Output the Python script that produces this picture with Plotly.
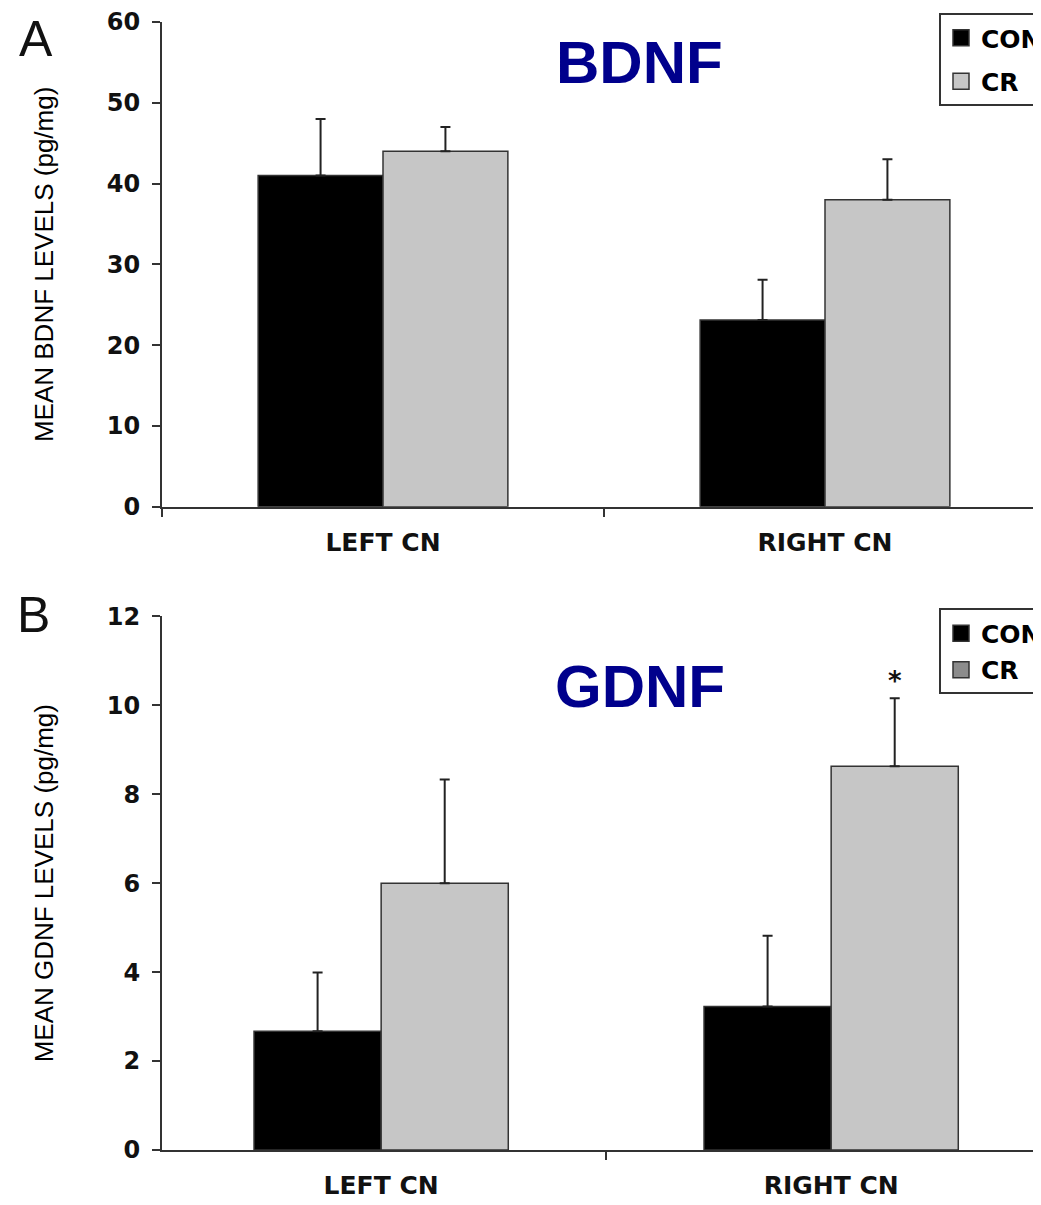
import plotly.graph_objects as go

# ---------------- data ----------------
categories = ["LEFT CN", "RIGHT CN"]
groups = ["CON", "CR"]

bdnf_con = [41.0, 23.1]
bdnf_con_err = [7.0, 5.0]
bdnf_cr = [44.0, 38.0]
bdnf_cr_err = [3.0, 5.0]

gdnf_con = [2.67, 3.23]
gdnf_con_err = [1.32, 1.59]
gdnf_cr = [6.0, 8.63]
gdnf_cr_err = [2.33, 1.53]

bdnf_ticks = [0, 10, 20, 30, 40, 50, 60]
gdnf_ticks = [0, 2, 4, 6, 8, 10, 12]

# ---------------- styles ----------------
CON_COLOR = "#000000"
CR_COLOR = "#c6c6c6"
CR_LEGEND_B = "#8c8c8c"
EDGE = "#333333"
TICKFONT = dict(family="DejaVu Sans", size=24, color="#111111", weight="bold")
CATFONT = dict(family="DejaVu Sans", size=25, color="#111111", weight="bold")
TITLEFONT = dict(family="Liberation Sans", size=26, color="#000000")
BARGAP = 0.435

# page offset of the figure inside the html body (default body margin)
OFF = 8
W, H = 1041, 1197
L_M, T_M = 162 - OFF, 19 - OFF
B_M = H - (1150 - OFF)
PW = W - L_M
PH = H - T_M - B_M


def py(pix):
    """page pixel row -> paper y"""
    return (H - B_M - (pix - OFF)) / PH


def px(pix):
    """page pixel column -> paper x"""
    return (pix - OFF - L_M) / PW


fig = go.Figure()


def add_bars(xa, ya, con, con_err, cr, cr_err):
    fig.add_trace(go.Bar(
        x=categories, y=con, name="CON", showlegend=False,
        marker=dict(color=CON_COLOR, line=dict(color=EDGE, width=1.5)),
        error_y=dict(type="data", symmetric=False, array=con_err,
                     arrayminus=[0] * len(con), color="#222222",
                     thickness=2, width=5),
        xaxis=xa, yaxis=ya))
    fig.add_trace(go.Bar(
        x=categories, y=cr, name="CR", showlegend=False,
        marker=dict(color=CR_COLOR, line=dict(color=EDGE, width=1.5)),
        error_y=dict(type="data", symmetric=False, array=cr_err,
                     arrayminus=[0] * len(cr), color="#222222",
                     thickness=2, width=5),
        xaxis=xa, yaxis=ya))


def add_legend_items(xa, ya, legend, cr_swatch):
    for name, col in zip(groups, [CON_COLOR, cr_swatch]):
        fig.add_trace(go.Scatter(
            x=[None], y=[None], mode="markers", name=name,
            legend=legend, legendgroup=legend + name,
            marker=dict(symbol="square", size=16, color=col,
                        line=dict(color=EDGE, width=1.5)),
            xaxis=xa, yaxis=ya))


add_bars("x", "y", bdnf_con, bdnf_con_err, bdnf_cr, bdnf_cr_err)
add_bars("x2", "y2", gdnf_con, gdnf_con_err, gdnf_cr, gdnf_cr_err)
add_legend_items("x", "y", "legend", CR_COLOR)
add_legend_items("x2", "y2", "legend2", CR_LEGEND_B)

xcommon = dict(type="category", showline=True, linecolor=EDGE, linewidth=2,
               ticks="outside", tickson="boundaries", ticklen=8, tickwidth=1.5,
               tickcolor=EDGE, showgrid=False, zeroline=False,
               tickfont=CATFONT, ticklabelstandoff=12)
ycommon = dict(showline=True, linecolor=EDGE, linewidth=2, ticks="outside",
               ticklen=8, tickwidth=1.5, tickcolor=EDGE, showgrid=False,
               zeroline=False, tickfont=TICKFONT, ticklabelstandoff=7,
               title_font=TITLEFONT)

# x ranges: left edge of plot at page x=162, 442 / 450 px per category
xa_left = -0.5
xa_right = xa_left + PW / 442
xb_left = -0.487
xb_right = xb_left + PW / 450

fig.update_layout(
    width=W, height=H,
    margin=dict(l=L_M, r=0, t=T_M, b=B_M),
    paper_bgcolor="white", plot_bgcolor="white",
    barmode="group", bargap=BARGAP, bargroupgap=0,
    xaxis=dict(xcommon, domain=[0, 1], range=[xa_left, xa_right], anchor="y"),
    yaxis=dict(ycommon, domain=[py(505), 1], range=[0, 60], tickvals=bdnf_ticks,
               anchor="x", title=dict(text="MEAN BDNF LEVELS (pg/mg)", standoff=46)),
    xaxis2=dict(xcommon, domain=[0, 1], range=[xb_left, xb_right], anchor="y2"),
    yaxis2=dict(ycommon, domain=[0, py(615)], range=[0, 12], tickvals=gdnf_ticks,
                anchor="x2", title=dict(text="MEAN GDNF LEVELS (pg/mg)", standoff=46)),
    legend=dict(x=1, xanchor="right", y=py(10), yanchor="top",
                bgcolor="white", bordercolor=EDGE, borderwidth=2,
                font=dict(family="DejaVu Sans", size=25, color="#000", weight="bold"),
                tracegroupgap=8),
    legend2=dict(x=1, xanchor="right", y=py(607), yanchor="top",
                 bgcolor="white", bordercolor=EDGE, borderwidth=2,
                 font=dict(family="DejaVu Sans", size=25, color="#000", weight="bold"),
                 tracegroupgap=1),
)

for txt, x0, y0 in [("A", 36, 36), ("B", 33, 614)]:
    fig.add_annotation(text=txt, xref="paper", yref="paper",
                       x=px(x0), y=py(y0),
                       xanchor="center", yanchor="middle", showarrow=False,
                       font=dict(family="Liberation Sans", size=50, color="#111"))

for txt, x0, y0 in [("BDNF", 639, 60), ("GDNF", 640, 685)]:
    fig.add_annotation(text=txt, xref="paper", yref="paper",
                       x=px(x0), y=py(y0), xanchor="center",
                       yanchor="middle", showarrow=False,
                       font=dict(family="Liberation Sans", size=60, color="#00008C",
                                 weight="bold"))

# significance asterisk above the right CR bar
fig.add_annotation(text="*", xref="x2", yref="y2",
                   x=1 + (1 - BARGAP) / 4, y=gdnf_cr[1] + gdnf_cr_err[1],
                   xanchor="center", yanchor="bottom", showarrow=False,
                   font=dict(family="DejaVu Sans", size=26, color="#111", weight="bold"))

fig.write_html("out.html")
